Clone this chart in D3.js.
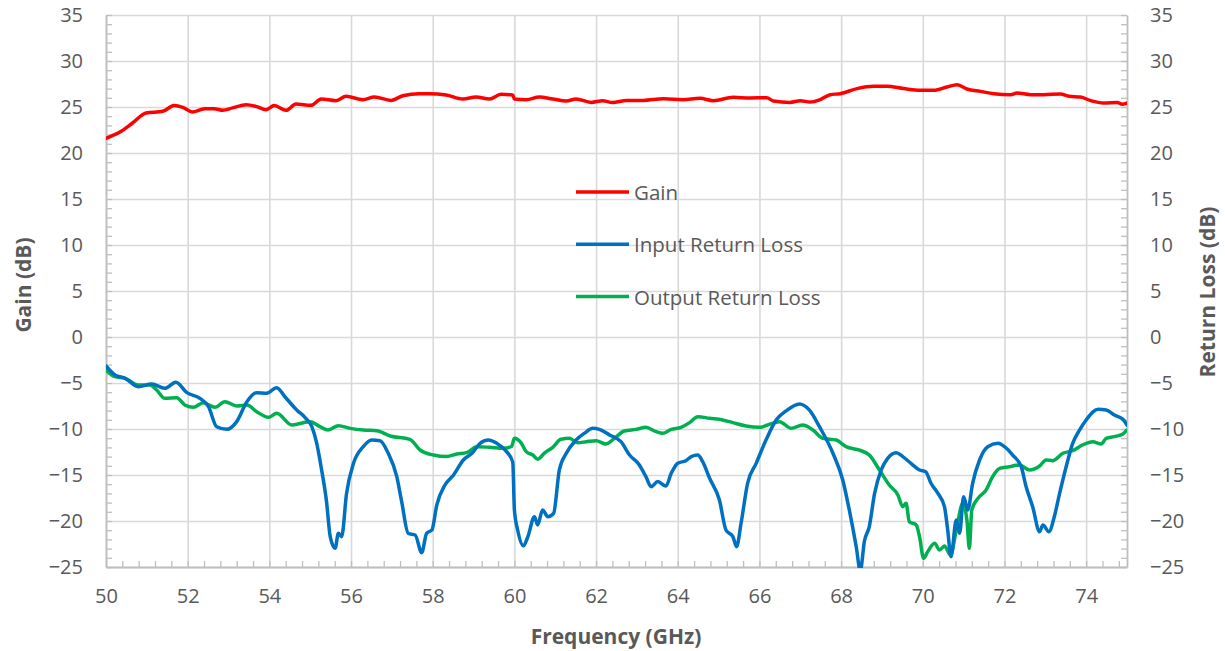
<!DOCTYPE html>
<html>
<head>
<meta charset="utf-8">
<script src="https://d3js.org/d3.v7.min.js"></script>
<style>
  body { margin: 0; background: #fff; }
  text { font-family: "Open Sans", "Noto Sans", sans-serif; fill: #595959; }
</style>
</head>
<body>
<div id="VizBox"></div>
<script>
// frequency points (GHz) and values (dB)
var gainFreq = [50.0,50.33,50.65,50.98,51.39,51.67,51.88,52.12,52.41,52.65,52.86,53.1,53.43,53.67,53.92,54.12,54.41,54.65,55.02,55.27,55.63,55.88,56.29,56.57,56.98,57.27,57.67,57.92,58.33,58.74,59.06,59.39,59.67,59.96,60.0,60.29,60.61,60.94,61.27,61.51,61.88,62.16,62.4,62.75,63.16,63.65,64.13,64.54,64.87,65.36,65.77,66.18,66.34,66.75,67.0,67.24,67.49,67.73,67.98,68.39,68.8,69.12,69.53,69.94,70.27,70.59,70.84,71.08,71.41,71.74,72.15,72.31,72.64,72.96,73.37,73.58,73.86,74.11,74.43,74.76,74.88,75.0];
var gainDb = [21.6,22.25,23.26,24.35,24.53,25.15,24.96,24.46,24.82,24.82,24.64,24.9,25.25,25.07,24.71,25.15,24.64,25.33,25.18,25.87,25.69,26.16,25.8,26.09,25.72,26.23,26.45,26.45,26.3,25.87,26.09,25.87,26.38,26.3,25.87,25.8,26.09,25.87,25.65,25.87,25.5,25.69,25.48,25.72,25.72,25.9,25.8,25.94,25.69,26.05,25.98,26.01,25.65,25.5,25.69,25.54,25.8,26.34,26.45,27.0,27.25,27.25,27.0,26.81,26.81,27.17,27.43,26.96,26.7,26.45,26.34,26.52,26.34,26.34,26.41,26.16,26.09,25.69,25.43,25.5,25.29,25.43];

var inFreq = [50.0,50.22,50.47,50.79,51.12,51.44,51.71,51.98,52.3,52.51,52.71,52.96,53.2,53.45,53.69,53.93,54.18,54.38,54.67,54.87,55.04,55.16,55.28,55.4,55.49,55.61,55.69,55.77,55.89,56.06,56.3,56.51,56.71,56.91,57.12,57.24,57.4,57.57,57.73,57.85,57.98,58.1,58.3,58.51,58.75,58.96,59.16,59.36,59.57,59.81,59.96,60.0,60.08,60.22,60.33,60.49,60.57,60.69,60.82,60.96,61.1,61.27,61.51,61.71,61.92,62.08,62.33,62.61,62.82,63.06,63.22,63.35,63.51,63.71,63.84,64.0,64.2,64.33,64.49,64.61,64.78,65.02,65.18,65.35,65.44,65.55,65.71,65.92,66.16,66.41,66.65,66.98,67.22,67.47,67.8,68.04,68.2,68.37,68.47,68.57,68.69,68.82,68.98,69.14,69.35,69.51,69.71,69.92,70.07,70.2,70.37,70.53,70.61,70.69,70.82,70.9,71.0,71.1,71.22,71.39,71.59,71.84,72.0,72.2,72.41,72.53,72.69,72.86,72.94,73.09,73.22,73.35,73.51,73.67,73.84,74.0,74.29,74.49,74.69,74.9,75.0];
var inputRL = [-3.15,-4.13,-4.49,-5.4,-5.11,-5.58,-4.93,-6.05,-6.67,-7.57,-9.75,-10.04,-9.2,-7.03,-6.05,-6.12,-5.51,-6.49,-7.93,-8.73,-9.75,-11.56,-14.46,-17.9,-21.7,-22.97,-21.34,-21.7,-17.0,-13.73,-11.92,-11.2,-11.27,-12.64,-15.18,-17.9,-21.34,-21.52,-23.44,-21.34,-20.98,-18.26,-16.09,-15.0,-13.37,-12.64,-11.56,-11.2,-11.56,-12.46,-13.6,-18.8,-20.98,-22.7,-21.7,-19.53,-20.43,-18.8,-19.53,-19.17,-14.46,-12.64,-11.2,-10.47,-9.93,-10.04,-10.65,-11.38,-12.83,-13.91,-15.18,-16.27,-15.72,-16.2,-14.82,-13.73,-13.44,-13.0,-12.83,-13.55,-15.36,-17.72,-20.98,-21.7,-22.79,-20.25,-15.91,-13.73,-11.2,-9.02,-8.04,-7.28,-7.93,-9.75,-12.64,-15.54,-18.8,-22.8,-25.4,-22.2,-20.6,-17.0,-14.46,-13.19,-12.57,-13.0,-13.73,-14.46,-14.64,-15.9,-17.0,-18.44,-20.98,-23.88,-19.9,-21.34,-17.36,-18.8,-15.9,-13.37,-11.92,-11.56,-11.92,-12.83,-14.1,-16.27,-18.44,-21.16,-20.43,-21.16,-19.53,-17.0,-14.1,-11.56,-10.1,-9.02,-7.86,-7.93,-8.48,-8.95,-9.57];

var outFreq = [50.0,50.22,50.47,50.79,51.08,51.24,51.44,51.73,51.93,52.14,52.38,52.67,52.91,53.2,53.45,53.69,53.98,54.18,54.55,54.83,55.0,55.24,55.44,55.69,55.98,56.3,56.63,56.96,57.44,57.69,58.02,58.34,58.59,58.83,59.08,59.4,59.73,59.93,60.0,60.16,60.29,60.45,60.57,60.73,60.94,61.14,61.35,61.55,61.76,62.0,62.24,62.45,62.69,62.98,63.22,63.47,63.63,63.84,64.08,64.29,64.49,64.78,65.1,65.35,65.67,66.0,66.24,66.49,66.78,67.06,67.31,67.55,67.88,68.12,68.45,68.69,68.94,69.18,69.39,69.51,69.59,69.67,69.84,69.92,70.02,70.12,70.29,70.41,70.53,70.68,70.82,70.98,71.08,71.14,71.2,71.35,71.55,71.71,71.88,72.12,72.37,72.61,72.86,73.02,73.18,73.43,73.67,73.91,74.16,74.37,74.49,74.69,74.9,75.0];
var outputRL = [-3.59,-4.31,-4.49,-5.22,-5.22,-5.76,-6.67,-6.59,-7.39,-7.64,-7.14,-7.64,-7.03,-7.5,-7.39,-8.12,-8.73,-8.3,-9.57,-9.31,-9.2,-9.75,-10.11,-9.64,-9.93,-10.11,-10.18,-10.76,-11.12,-12.28,-12.83,-13.0,-12.72,-12.57,-11.92,-11.99,-12.1,-11.9,-11.01,-11.49,-12.46,-12.83,-13.3,-12.64,-11.99,-11.12,-11.01,-11.49,-11.38,-11.27,-11.63,-11.01,-10.22,-10.04,-9.82,-10.29,-10.47,-10.04,-9.82,-9.31,-8.66,-8.84,-9.02,-9.31,-9.67,-9.82,-9.49,-9.2,-9.93,-9.57,-10.11,-11.01,-11.2,-11.92,-12.3,-12.83,-14.46,-16.09,-17.17,-18.44,-18.08,-20.07,-20.43,-21.7,-24.06,-23.33,-22.43,-23.15,-22.72,-23.7,-20.98,-18.08,-19.9,-22.97,-18.8,-17.54,-16.63,-15.18,-14.28,-14.1,-13.91,-14.46,-14.02,-13.37,-13.44,-12.64,-12.36,-11.74,-11.38,-11.63,-11.01,-10.83,-10.54,-10.11];

var seriesNames = ["Gain", "Input Return Loss", "Output Return Loss"];
var seriesColors = ["#ff0000", "#0070c0", "#00b050"];
var xTicks = d3.range(50, 76, 2);
var yTicks = d3.range(-25, 36, 5);

// size of the picture and the plot box
var W = 1225, H = 651;
var plotL = 106, plotR = 1127, plotT = 15, plotB = 567;

var svg = d3.select("#VizBox")
  .append("svg")
    .attr("width", W)
    .attr("height", H);

svg.append("rect").attr("width", W).attr("height", H).attr("fill", "#fff");

var x = d3.scaleLinear().domain([50, 75]).range([plotL, plotR]);
var y = d3.scaleLinear().domain([-25, 35]).range([plotB, plotT]);

// grid lines
svg.append("g")
  .attr("transform", "translate(0," + plotB + ")")
  .call(d3.axisBottom(x).tickValues(xTicks).tickSize(-(plotB - plotT)).tickFormat(""))
  .call(function(g) { g.select(".domain").remove(); })
  .selectAll("line").attr("stroke", "#d9d9d9").attr("stroke-width", 1.6);

svg.append("g")
  .attr("transform", "translate(" + plotL + ",0)")
  .call(d3.axisLeft(y).tickValues(yTicks).tickSize(-(plotR - plotL)).tickFormat(""))
  .call(function(g) { g.select(".domain").remove(); })
  .selectAll("line").attr("stroke", "#d9d9d9").attr("stroke-width", 1.6);

// minor ticks pointing into the plot
function minor(g) {
  g.select(".domain").attr("stroke", "#bfbfbf").attr("stroke-width", 1.8);
  g.selectAll("line").attr("stroke", "#bfbfbf").attr("stroke-width", 1.3);
}
svg.append("g")
  .attr("transform", "translate(" + plotL + ",0)")
  .call(d3.axisLeft(y).tickValues(d3.range(-25, 36, 1)).tickSize(-6).tickSizeOuter(0).tickFormat(""))
  .call(minor);
svg.append("g")
  .attr("transform", "translate(" + plotR + ",0)")
  .call(d3.axisRight(y).tickValues(d3.range(-25, 36, 1)).tickSize(-6).tickSizeOuter(0).tickFormat(""))
  .call(minor);
svg.append("g")
  .attr("transform", "translate(0," + plotB + ")")
  .call(d3.axisBottom(x).tickValues(d3.range(50, 75.01, 0.4)).tickSize(-6).tickSizeOuter(0).tickFormat(""))
  .call(minor);

// tick labels
function labels(g) {
  g.select(".domain").remove();
  g.selectAll("line").remove();
  g.selectAll("text").attr("font-size", "20px").attr("fill", "#595959");
}
svg.append("g")
  .attr("transform", "translate(" + plotL + ",0)")
  .call(d3.axisLeft(y).tickValues(yTicks).tickSize(0).tickPadding(23))
  .call(labels);
svg.append("g")
  .attr("transform", "translate(" + plotR + ",0)")
  .call(d3.axisRight(y).tickValues(yTicks).tickSize(0).tickPadding(23))
  .call(labels);
svg.append("g")
  .attr("transform", "translate(0," + plotB + ")")
  .call(d3.axisBottom(x).tickValues(xTicks).tickSize(0).tickPadding(22))
  .call(labels);

// axis titles
svg.append("text")
  .attr("transform", "translate(23,285)rotate(-90)")
  .attr("text-anchor", "middle").attr("dominant-baseline", "central")
  .attr("font-size", "21px").attr("font-weight", "bold")
  .text("Gain (dB)");
svg.append("text")
  .attr("transform", "translate(1207,292)rotate(-90)")
  .attr("text-anchor", "middle").attr("dominant-baseline", "central")
  .attr("font-size", "21px").attr("font-weight", "bold")
  .text("Return Loss (dB)");
svg.append("text")
  .attr("x", 616).attr("y", 636)
  .attr("text-anchor", "middle").attr("dominant-baseline", "central")
  .attr("font-size", "21px").attr("font-weight", "bold")
  .text("Frequency (GHz)");

// the three traces
svg.append("clipPath").attr("id", "plotClip")
  .append("rect").attr("x", plotL).attr("y", plotT).attr("width", plotR - plotL).attr("height", plotB - plotT + 1);

var series = [
  d3.zip(gainFreq, gainDb),
  d3.zip(inFreq, inputRL),
  d3.zip(outFreq, outputRL)
];
var line = d3.line()
  .curve(d3.curveMonotoneX)
  .x(function(d) { return x(d[0]); })
  .y(function(d) { return y(d[1]); });

// green first, then blue, red on top
[2, 1, 0].forEach(function(i) {
  svg.append("path")
    .datum(series[i])
    .attr("clip-path", "url(#plotClip)")
    .attr("fill", "none")
    .attr("stroke", seriesColors[i])
    .attr("stroke-width", 3.5)
    .attr("stroke-linejoin", "round")
    .attr("stroke-linecap", "round")
    .attr("d", line);
});

// legend inside the plot
var legend = svg.selectAll(".leg")
  .data(seriesNames)
  .enter()
  .append("g")
    .attr("class", "leg")
    .attr("transform", function(d, i) { return "translate(576," + (192 + i * 52.3) + ")"; });
legend.append("line")
  .attr("x1", 0).attr("x2", 53)
  .attr("stroke", function(d, i) { return seriesColors[i]; })
  .attr("stroke-width", 3.5);
legend.append("text")
  .attr("x", 58)
  .attr("dominant-baseline", "central")
  .attr("font-size", "20.5px")
  .text(function(d) { return d; });
</script>
</body>
</html>
